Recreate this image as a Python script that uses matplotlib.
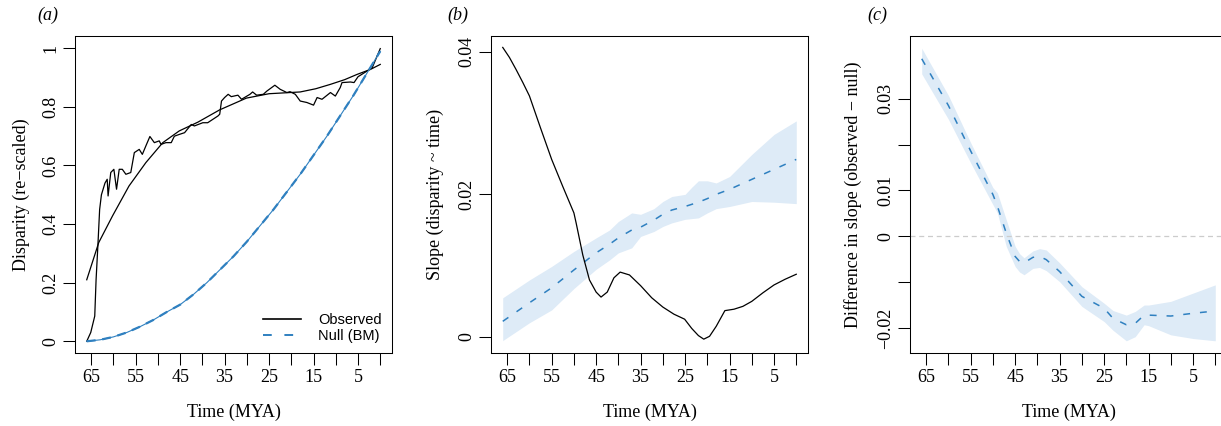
import numpy as np
import matplotlib
matplotlib.use("Agg")
import matplotlib.pyplot as plt

plt.rcParams['font.family'] = ['Liberation Serif', 'DejaVu Serif']

# panel (a): observed disparity through time (raw + smooth fit) and BM null
obs_t = [66.0, 65.1, 64.2, 63.9, 63.5, 63.1, 62.7, 61.9, 61.4, 61.2, 60.6, 59.9, 59.3, 58.7,
         58.0, 57.2, 56.1, 55.3, 54.2, 53.5, 52.7, 51.8, 50.8, 49.7, 49.3, 48.2, 47.0, 46.3,
         45.2, 44.0, 42.5, 41.8, 39.9, 38.8, 36.5, 36.1, 35.7, 35.0, 34.2, 33.5, 32.0, 31.2,
         29.3, 28.7, 27.8, 26.3, 25.5, 23.7, 22.5, 21.0, 20.3, 19.1, 18.0, 16.5, 15.0, 14.2,
         13.1, 11.2, 10.1, 9.0, 8.6, 6.7, 5.9, 5.0, 2.9, 1.8, 0.0]
obs_v = [0.0, 0.03, 0.086, 0.21, 0.325, 0.45, 0.50, 0.54, 0.553, 0.496, 0.576, 0.587, 0.519, 0.587,
         0.587, 0.57, 0.576, 0.644, 0.655, 0.638, 0.667, 0.699, 0.678, 0.684, 0.672, 0.678, 0.678, 0.70,
         0.706, 0.712, 0.74, 0.735, 0.746, 0.746, 0.769, 0.775, 0.82, 0.832, 0.843, 0.835, 0.84, 0.826,
         0.843, 0.851, 0.84, 0.843, 0.854, 0.874, 0.86, 0.849, 0.852, 0.843, 0.82, 0.815, 0.806, 0.832,
         0.826, 0.849, 0.837, 0.866, 0.883, 0.885, 0.883, 0.903, 0.923, 0.934, 0.999]

fit_t = [66, 63.3, 60.2, 56.5, 52.7, 48.9, 45.2, 41, 36.1, 30.1, 25, 20.3, 18, 14.5, 11.2, 8, 5.2, 2.2, 0]
fit_v = [0.21, 0.337, 0.428, 0.53, 0.61, 0.678, 0.718, 0.748, 0.79, 0.83, 0.845, 0.849, 0.851, 0.862,
         0.877, 0.893, 0.911, 0.928, 0.945]

bm_t = [66, 63, 60, 57, 54, 51, 48, 45, 42, 39, 36, 33, 30, 27, 24, 21, 18, 15, 12, 9, 6, 3, 0]
bm_v = [0.0, 0.005, 0.015, 0.030, 0.050, 0.073, 0.100, 0.125, 0.160, 0.200, 0.245, 0.290, 0.340,
        0.395, 0.450, 0.510, 0.570, 0.635, 0.700, 0.770, 0.840, 0.915, 0.99]

# panel (b): slope of disparity ~ time
slope_t = [66, 64.5, 63, 61.5, 60, 57.5, 55, 52.5, 50, 49.5, 48, 46.5, 45, 43.9, 42.5, 41, 39.6,
           37.5, 35, 32.5, 30, 27.5, 25.1, 23.5, 22, 20.8, 19.5, 18, 16.05, 14, 12, 10, 7.5, 5,
           2.5, 0]
slope_v = [0.0406, 0.0392, 0.0375, 0.0357, 0.0338, 0.0293, 0.0249, 0.0211, 0.0174, 0.0160, 0.0115,
           0.0080, 0.0063, 0.0056, 0.0063, 0.0083, 0.0091, 0.0087, 0.0072, 0.0055, 0.0042, 0.0032,
           0.0025, 0.0012, 0.0002, -0.0003, 0.0001, 0.0015, 0.0037, 0.0039, 0.0043, 0.0050, 0.0062,
           0.0073, 0.0081, 0.0088]

null_t = [66, 60, 55, 50, 45, 42, 40, 37, 35, 32, 30, 28, 25, 23.5, 22, 20, 18, 15, 10, 5, 0]
null_mean = [0.0022, 0.0048, 0.0069, 0.0094, 0.0118, 0.0130, 0.0139, 0.0150, 0.0154, 0.0164, 0.0172,
             0.0178, 0.0183, 0.0186, 0.0189, 0.0194, 0.0200, 0.0207, 0.0221, 0.0235, 0.0249]
null_lo = [-0.0005, 0.0020, 0.0038, 0.0068, 0.0095, 0.0108, 0.0118, 0.0125, 0.0141, 0.0148, 0.0155,
           0.0160, 0.0165, 0.0166, 0.0167, 0.0174, 0.0180, 0.0183, 0.0190, 0.0189, 0.0187]
null_hi = [0.0055, 0.0080, 0.0099, 0.0120, 0.0139, 0.0150, 0.0162, 0.0174, 0.0172, 0.0180, 0.0190,
           0.0197, 0.0200, 0.0210, 0.0219, 0.0219, 0.0216, 0.0225, 0.0256, 0.0284, 0.0303]

# panel (c): observed - null slope difference
diff_t = [66, 60, 55, 50, 49, 47, 45, 44, 43, 41, 39.5, 38, 35, 30, 25, 23, 20, 18, 16, 15, 10, 5, 0]
diff_mean = [0.0387, 0.0285, 0.0186, 0.0091, 0.0066, 0.0007, -0.0044, -0.0055, -0.0058, -0.0046,
             -0.0044, -0.0051, -0.0077, -0.0131, -0.0157, -0.0179, -0.0193, -0.0190, -0.0172,
             -0.0172, -0.0174, -0.0168, -0.0163]
diff_lo = [0.0354, 0.0255, 0.0160, 0.0069, 0.0051, -0.0022, -0.0066, -0.0078, -0.0084, -0.0070,
           -0.0068, -0.0075, -0.0099, -0.0153, -0.0186, -0.0205, -0.0228, -0.0219, -0.0193,
           -0.0195, -0.0215, -0.0223, -0.0228]
diff_hi = [0.0410, 0.0307, 0.0204, 0.0106, 0.0095, 0.0036, -0.0022, -0.0038, -0.0047, -0.0032,
           -0.0027, -0.0030, -0.0058, -0.0110, -0.0146, -0.0162, -0.0172, -0.0164, -0.0150,
           -0.0150, -0.0142, -0.0124, -0.0106]

BLUE = '#2f80c0'
BAND = '#deebf7'
DASH = (0, (4.5, 6.5))
FS = 13

xticks = list(range(65, -1, -5))
xlabels = [str(v) if v % 10 == 5 else '' for v in xticks]

fig = plt.figure(figsize=(12.21, 4.26), dpi=100)
W, H = 1221.0, 426.0


def make_ax(left_px):
    ax = fig.add_axes([left_px / W, (H - 353) / H, 317 / W, 317 / H])
    ax.set_xlim(68.64, -2.64)
    ax.set_xticks(xticks)
    ax.set_xticklabels(xlabels)
    ax.tick_params(direction='out', length=8.5, width=0.75, labelsize=FS, pad=3)
    ax.tick_params(axis='y', pad=3)
    for s in ax.spines.values():
        s.set_linewidth(0.75)
    ax.set_xlabel('Time (MYA)', fontsize=FS, va='center')
    ax.xaxis.set_label_coords(0.5, -0.186)
    return ax


def set_ylab(ax, text, xpos):
    ax.set_ylabel(text, fontsize=FS, va='center')
    ax.yaxis.set_label_coords(xpos, 0.5)


# (a)
ax1 = make_ax(75)
ax1.plot(obs_t, obs_v, color='black', lw=0.9)
ax1.plot(fit_t, fit_v, color='black', lw=0.9)
ax1.plot(bm_t, bm_v, color=BLUE, lw=0.8)
ax1.plot(bm_t, bm_v, color=BLUE, lw=1.6, ls=(0, (4, 3)))
ax1.set_ylim(-0.04, 1.042)
ax1.set_yticks([0, 0.2, 0.4, 0.6, 0.8, 1])
ax1.set_yticklabels(['0', '0.2', '0.4', '0.6', '0.8', '1'], rotation=90, va='center')
set_ylab(ax1, 'Disparity (re\u2212scaled)', -0.17)
h1, = ax1.plot([], [], color='black', lw=1.2)
h2, = ax1.plot([], [], color=BLUE, lw=1.4, ls=DASH)
ax1.legend([h1, h2], ['Observed', 'Null (BM)'], loc='lower right', frameon=False,
           prop={'family': 'Liberation Sans', 'size': 10.5}, handlelength=2.6,
           borderaxespad=0.3, labelspacing=0.15, handletextpad=1.2)

# (b)
ax2 = make_ax(491)
ax2.fill_between(null_t, null_lo, null_hi, color=BAND, lw=0)
ax2.plot(null_t, null_mean, color=BLUE, lw=1.1, ls=DASH)
ax2.plot(slope_t, slope_v, color='black', lw=0.9)
ax2.set_ylim(-0.00224, 0.0422)
ax2.set_yticks([0, 0.02, 0.04])
ax2.set_yticklabels(['0', '0.02', '0.04'], rotation=90, va='center')
set_ylab(ax2, 'Slope (disparity ~ time)', -0.175)

# (c)
ax3 = make_ax(910)
ax3.axhline(0, color='#cccccc', lw=0.9, ls=(0, (4, 3)))
ax3.fill_between(diff_t, diff_lo, diff_hi, color=BAND, lw=0)
ax3.plot(diff_t, diff_mean, color=BLUE, lw=1.1, ls=DASH)
ax3.set_ylim(-0.02546, 0.04367)
ax3.set_yticks([-0.02, -0.01, 0, 0.01, 0.02, 0.03])
ax3.set_yticklabels(['\u22120.02', '', '0', '0.01', '', '0.03'], rotation=90, va='center')
set_ylab(ax3, 'Difference in slope (observed \u2212 null)', -0.18)

for x, s in [(48, '(a)'), (458, '(b)'), (877, '(c)')]:
    fig.text(x / W, 1 - 15 / H, s, fontsize=FS, style='italic', ha='center', va='center')

fig.savefig('out.png', dpi=100)
